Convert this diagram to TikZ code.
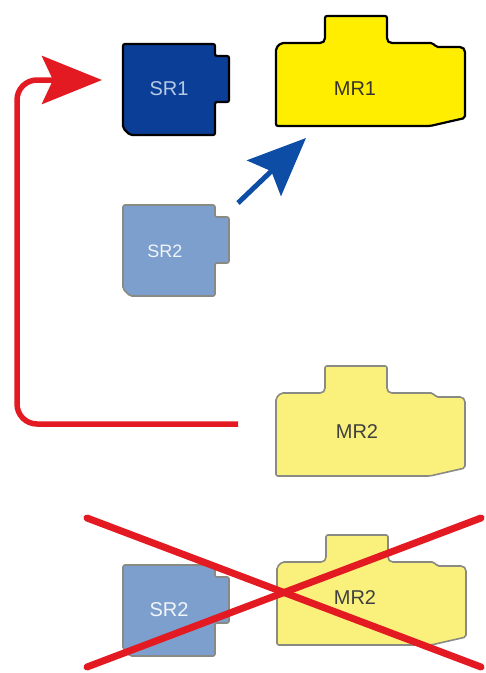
\documentclass[tikz,border=0pt]{standalone}
\usepackage{fontspec}
\setmainfont{Liberation Sans}
\usetikzlibrary{arrows.meta}
\tikzset{every picture/.style={line width=0.75pt}}

\definecolor{srdark}{HTML}{0B3F97}
\definecolor{srpale}{HTML}{7C9FCE}
\definecolor{mrbright}{HTML}{FFEE00}
\definecolor{mrpale}{HTML}{FAF17C}
\definecolor{rimgray}{HTML}{8A8A84}
\definecolor{swapred}{HTML}{E41A22}
\definecolor{movblue}{HTML}{0D4DA6}

\tikzset{
  srpart/.pic={
    \draw[pic actions, yscale=-1, rounded corners=2pt] (0,0) -- (92,0) -- (92,12) -- (106,12) -- (106,58) -- (92,58) -- (92,91) -- (7,91) -- (0,84) -- cycle;
  },
  mrpart/.pic={
    \draw[pic actions, yscale=-1, rounded corners=2pt] (0,5) -- (5,0) -- (42,0) .. controls (47,0) and (49,-2) .. (49,-7) -- (49,-27) -- (111,-27) -- (111,-7) .. controls (111,-2) and (113,0) .. (118,0) -- (157,0) -- (160,4) -- (186,4) -- (189,7) -- (189,75) -- (154,83) -- (0,83) -- cycle;
  },
  label20/.style={font=\fontsize{20}{24}\selectfont},
  label18/.style={font=\fontsize{18}{21}\selectfont},
  redarrow/.style={draw=swapred, line width=5.5pt, -{Stealth[length=60pt, width=48pt, inset=11pt]}},
  bluearrow/.style={draw=movblue, line width=5pt, -{Stealth[length=58pt, width=49pt, inset=10pt]}},
  cross/.style={draw=swapred, line width=7pt, line cap=round}
}

\begin{document}
\begin{tikzpicture}[x=1pt,y=1pt,yscale=-1,xscale=1]
    \useasboundingbox (0,0) rectangle (486,673);
    % top row: the pair as it sits now
    \pic[fill=srdark, draw=black, line width=2.2pt] at (123,44) {srpart};
    \pic[fill=mrbright, draw=black, line width=2.2pt] at (276,43) {mrpart};
    \draw (169,89) node [label20, text=srpale!55!white] (sr1) {SR1};
    \draw (355,89) node [label20, text=black!80!olive] (mr1) {MR1};
    % middle: the faded parts
    \pic[fill=srpale, draw=rimgray, line width=1.6pt] at (123,205) {srpart};
    \pic[fill=mrpale, draw=rimgray, line width=1.6pt] at (276,393) {mrpart};
    \draw (165,251) node [label18, text=white!90!srpale] (sr2) {SR2};
    \draw (357,432) node [label20, text=black!75] (mr2) {MR2};
    % bottom: the pair that is ruled out
    \pic[fill=srpale, draw=rimgray, line width=1.6pt] at (123,565) {srpart};
    \pic[fill=mrpale, draw=rimgray, line width=1.6pt] at (277,562) {mrpart};
    \draw (169,610) node [label20, text=white!90!srpale] (sr2x) {SR2};
    \draw (355,598) node [label20, text=black!75] (mr2x) {MR2};
    % arrow ends
    \coordinate (mr2out) at (238,424);
    \coordinate (sr1in) at (102,80);
    \coordinate (sr2out) at (238,203);
    \coordinate (mr1in) at (306,138);
    \coordinate (xtl) at (87,518);
    \coordinate (xbr) at (481,667);
    \coordinate (xtr) at (481,518);
    \coordinate (xbl) at (87,667);
    \draw[redarrow, rounded corners=20pt] (mr2out) -- (17,424) -- (17,80) -- (sr1in);
    \draw[bluearrow] (sr2out) -- (mr1in);
    \draw[cross] (xtl) -- (xbr);
    \draw[cross] (xtr) -- (xbl);
\end{tikzpicture}
\end{document}
